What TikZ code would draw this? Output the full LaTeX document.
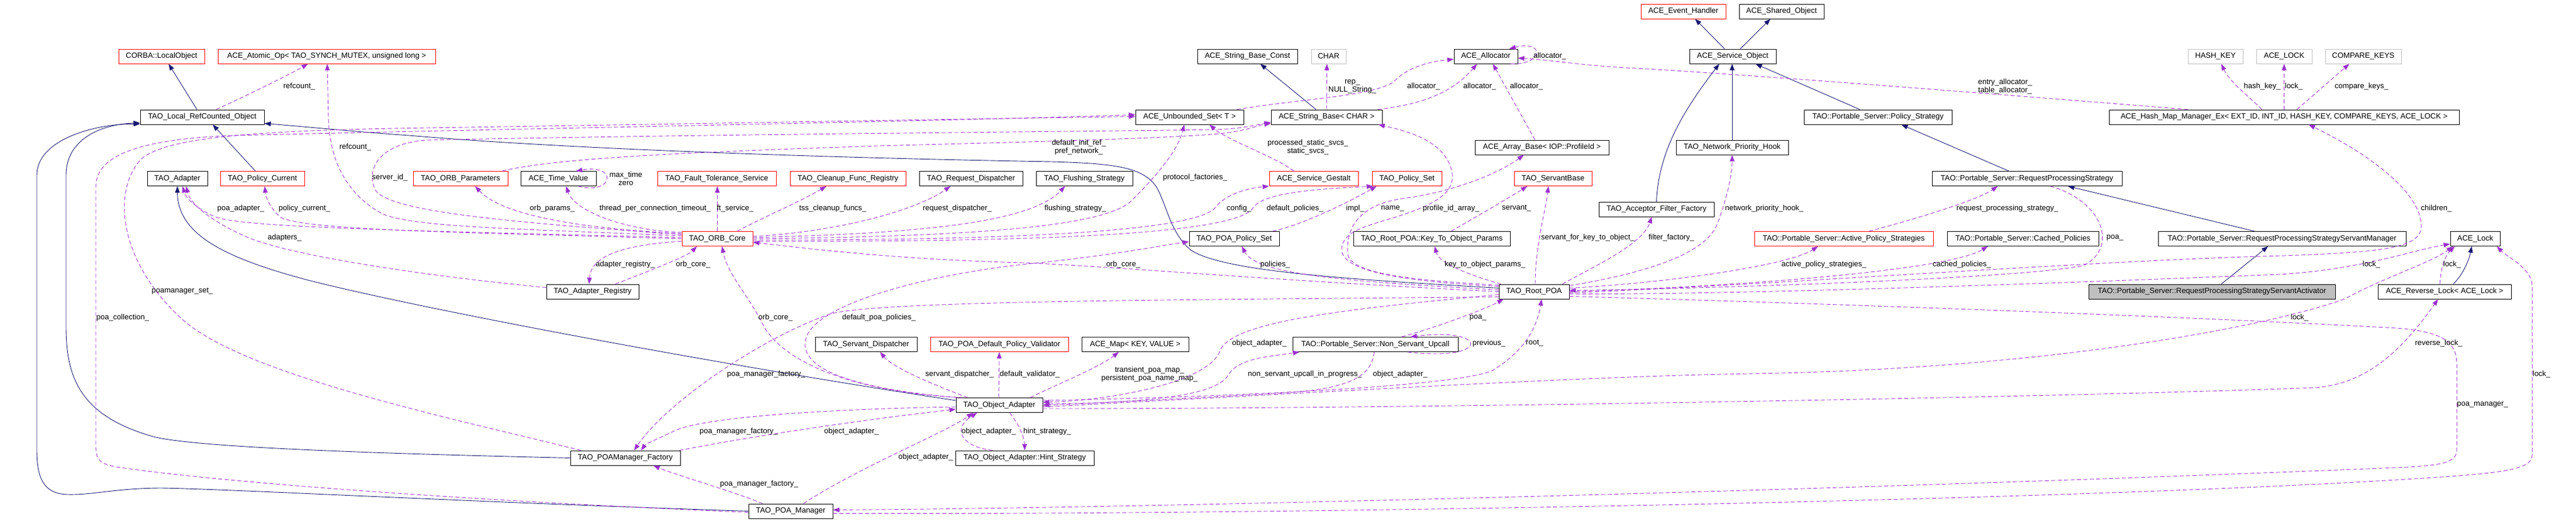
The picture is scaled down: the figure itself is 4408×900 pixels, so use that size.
\documentclass[tikz,border=0pt]{standalone}
\usepackage{fontspec}
\setmainfont{Liberation Sans}
\usetikzlibrary{arrows.meta}
\definecolor{inhblue}{RGB}{25,25,112}
\definecolor{usepurple}{RGB}{154,50,205}
\definecolor{boxgray}{RGB}{191,191,191}

\begin{document}
\begin{tikzpicture}[x=1pt,y=-1pt,
	>={Triangle[length=11pt,width=8pt]},
	every node/.style={font=\fontsize{13}{14}\selectfont},
	cls/.style={draw=black,fill=white,line width=0.9pt,minimum height=25pt,inner sep=0pt},
	redcls/.style={cls,draw=red},
	graycls/.style={cls,draw=boxgray},
	focuscls/.style={cls,fill=boxgray},
	inh/.style={->,draw=inhblue,line width=0.9pt},
	usage/.style={->,draw=usepurple,line width=0.9pt,dash pattern=on 7pt off 4pt},
	lbl/.style={inner sep=0pt,align=center}]
				\useasboundingbox (0,0) rectangle (4408,900);
				\node[redcls,minimum width=145pt] (eventH) at (2880.5,19.5) {ACE\_Event\_Handler};
				\node[cls,minimum width=145pt] (sharedObj) at (3048.5,19.5) {ACE\_Shared\_Object};
				\node[redcls,minimum width=147pt] (localObj) at (276.5,96.5) {CORBA::LocalObject};
				\node[redcls,minimum width=372pt] (atomicOp) at (559,96.5) {ACE\_Atomic\_Op< TAO\_SYNCH\_MUTEX, unsigned long >};
				\node[cls,minimum width=171pt] (strConst) at (2134.5,96.5) {ACE\_String\_Base\_Const};
				\node[graycls,minimum width=59pt] (charT) at (2273.5,96.5) {CHAR};
				\node[cls,minimum width=109pt] (allocator) at (2542.5,96.5) {ACE\_Allocator};
				\node[cls,minimum width=148pt] (serviceObj) at (2965,96.5) {ACE\_Service\_Object};
				\node[graycls,minimum width=94pt] (hashKey) at (3791,96.5) {HASH\_KEY};
				\node[graycls,minimum width=95pt] (lockT) at (3908.5,96.5) {ACE\_LOCK};
				\node[graycls,minimum width=130pt] (compareKeys) at (4044,96.5) {COMPARE\_KEYS};
				\node[cls,minimum width=212pt] (refCounted) at (346,200.5) {TAO\_Local\_RefCounted\_Object};
				\node[cls,minimum width=185pt] (unboundedSet) at (2035.5,200.5) {ACE\_Unbounded\_Set< T >};
				\node[cls,minimum width=190pt] (stringBase) at (2270,200.5) {ACE\_String\_Base< CHAR >};
				\node[cls,minimum width=253pt] (policyStrategy) at (3213.5,200.5) {TAO::Portable\_Server::Policy\_Strategy};
				\node[cls,minimum width=599pt] (hashMap) at (3908.5,200.5) {ACE\_Hash\_Map\_Manager\_Ex< EXT\_ID, INT\_ID, HASH\_KEY, COMPARE\_KEYS, ACE\_LOCK >};
				\node[cls,minimum width=229pt] (arrayBase) at (2638.5,252.5) {ACE\_Array\_Base< IOP::ProfileId >};
				\node[cls,minimum width=192pt] (netPrioHook) at (2964,252.5) {TAO\_Network\_Priority\_Hook};
				\node[cls,minimum width=103pt] (adapter) at (303.5,306) {TAO\_Adapter};
				\node[redcls,minimum width=144pt] (policyCurrent) at (449,306) {TAO\_Policy\_Current};
				\node[redcls,minimum width=162pt] (orbParams) at (788,306) {TAO\_ORB\_Parameters};
				\node[cls,minimum width=129pt] (timeValue) at (955.5,306) {ACE\_Time\_Value};
				\node[redcls,minimum width=203pt] (ftService) at (1226.5,306) {TAO\_Fault\_Tolerance\_Service};
				\node[redcls,minimum width=198pt] (cleanupReg) at (1451,306) {TAO\_Cleanup\_Func\_Registry};
				\node[cls,minimum width=177pt] (reqDispatcher) at (1661.5,306) {TAO\_Request\_Dispatcher};
				\node[cls,minimum width=165pt] (flushStrategy) at (1855.5,306) {TAO\_Flushing\_Strategy};
				\node[redcls,minimum width=152pt] (serviceGestalt) at (2248,306) {ACE\_Service\_Gestalt};
				\node[redcls,minimum width=119pt] (policySet) at (2407.5,306) {TAO\_Policy\_Set};
				\node[redcls,minimum width=133pt] (servantBase) at (2657.5,306) {TAO\_ServantBase};
				\node[cls,minimum width=325pt] (rps) at (3468.5,306) {TAO::Portable\_Server::RequestProcessingStrategy};
				\node[cls,minimum width=197pt] (filterFactory) at (2834.5,358.5) {TAO\_Acceptor\_Filter\_Factory};
				\node[redcls,minimum width=121pt] (orbCore) at (1227.5,409) {TAO\_ORB\_Core};
				\node[cls,minimum width=154pt] (poaPolicySet) at (2112,409) {TAO\_POA\_Policy\_Set};
				\node[cls,minimum width=268pt] (keyParams) at (2450,409) {TAO\_Root\_POA::Key\_To\_Object\_Params};
				\node[redcls,minimum width=306pt] (activeStrategies) at (3155,409) {TAO::Portable\_Server::Active\_Policy\_Strategies};
				\node[cls,minimum width=259pt] (cachedPolicies) at (3461.5,409) {TAO::Portable\_Server::Cached\_Policies};
				\node[cls,minimum width=424pt] (rpsManager) at (3905,409) {TAO::Portable\_Server::RequestProcessingStrategyServantManager};
				\node[cls,minimum width=85pt] (aceLock) at (4235.5,409) {ACE\_Lock};
				\node[cls,minimum width=158pt] (adapterRegistry) at (1014,499.5) {TAO\_Adapter\_Registry};
				\node[cls,minimum width=120pt] (rootPOA) at (2625,499.5) {TAO\_Root\_POA};
				\node[focuscls,minimum width=422pt] (rpsActivator) at (3785,499.5) {TAO::Portable\_Server::RequestProcessingStrategyServantActivator};
				\node[cls,minimum width=228pt] (reverseLock) at (4183,499.5) {ACE\_Reverse\_Lock< ACE\_Lock >};
				\node[cls,minimum width=174pt] (servantDispatcher) at (1482,590) {TAO\_Servant\_Dispatcher};
				\node[redcls,minimum width=236pt] (defaultValidator) at (1710,590) {TAO\_POA\_Default\_Policy\_Validator};
				\node[cls,minimum width=183pt] (aceMap) at (1942.5,590) {ACE\_Map< KEY, VALUE >};
				\node[cls,minimum width=283pt] (nonServantUpcall) at (2353.5,590) {TAO::Portable\_Server::Non\_Servant\_Upcall};
				\node[cls,minimum width=148pt] (objectAdapter) at (1710,694) {TAO\_Object\_Adapter};
				\node[cls,minimum width=188pt] (poaManagerFactory) at (1070,784.5) {TAO\_POAManager\_Factory};
				\node[cls,minimum width=237pt] (hintStrategy) at (1753.5,784.5) {TAO\_Object\_Adapter::Hint\_Strategy};
				\node[cls,minimum width=144pt] (poaManager) at (1353,875.5) {TAO\_POA\_Manager};

				\draw[inh] ([xshift=-9pt]refCounted.north) -- ([xshift=12pt]localObj.south);
				\draw[inh] ([xshift=-12pt]policyCurrent.north) -- ([xshift=18pt]refCounted.south);
				\draw[inh] ([yshift=8pt]objectAdapter.west) .. controls (1200,620) and (700,525) .. (520,478) .. controls (380,440) and (304,400) .. (adapter.south);
				\draw[inh] (poaManagerFactory.west) .. controls (700,778) and (330,768) .. (259,747) .. controls (140,712) and (113,650) .. (113,560) -- (113,300) .. controls (113,240) and (170,213) .. ([yshift=3pt]refCounted.south west);
				\draw[inh] (poaManager.west) .. controls (800,860) and (400,838) .. (277,836) .. controls (200,836) and (160,848) .. (116,847) .. controls (75,846) and (63,820) .. (63,770) -- (63,300) .. controls (63,240) and (160,212) .. ([yshift=1pt]refCounted.south west);
				\draw[inh] ([yshift=6pt]rootPOA.west) .. controls (2300,478) and (2100,465) .. (2040,430) .. controls (2000,400) and (1995,340) .. (1975,315) .. controls (1950,285) and (1900,280) .. (1800,277) .. controls (1500,272) and (1000,258) .. (700,232) .. controls (600,225) and (500,215) .. ([yshift=2pt]refCounted.south east);
				\draw[inh] ([xshift=-18pt]stringBase.north) -- ([xshift=22pt]strConst.south);
				\draw[inh] ([xshift=-14pt]serviceObj.north) -- ([xshift=20pt]eventH.south);
				\draw[inh] ([xshift=13pt]serviceObj.north) -- ([xshift=-19pt]sharedObj.south);
				\draw[inh] (filterFactory.north) .. controls (2838,260) and (2880,190) .. ([xshift=-23pt]serviceObj.south);
				\draw[inh] (netPrioHook.north) -- ([xshift=-1pt]serviceObj.south);
				\draw[inh] ([xshift=-31pt]policyStrategy.north) -- ([xshift=39pt]serviceObj.south);
				\draw[inh] ([xshift=-31pt]rps.north) -- ([xshift=40pt]policyStrategy.south);
				\draw[inh] ([xshift=-47pt]rpsManager.north) -- ([xshift=70pt]rps.south);
				\draw[inh] ([xshift=16pt]rpsActivator.north) -- ([xshift=-24pt]rpsManager.south);
				\draw[inh] ([xshift=15pt]reverseLock.north) .. controls (4215,470) and (4225,445) .. ([xshift=-6pt]aceLock.south);

				\draw[usage] ([xshift=24pt]refCounted.north) .. controls (430,160) and (500,125) .. ([xshift=-32pt]atomicOp.south);
				\draw[usage] ([yshift=5pt]orbCore.west) .. controls (900,392) and (700,390) .. (652,365) .. controls (590,330) and (563,270) .. (562,200) -- ([xshift=1pt]atomicOp.south);
				\draw[usage] ([yshift=2pt]orbCore.west) .. controls (700,395) and (420,390) .. (370,372) .. controls (340,360) and (318,340) .. ([xshift=9pt]adapter.south);
				\draw[usage] (orbCore.west) .. controls (800,398) and (520,395) .. (480,372) .. controls (465,360) and (455,340) .. ([xshift=4pt]policyCurrent.south);
				\draw[usage] ([yshift=7pt]adapterRegistry.west) .. controls (750,475) and (500,440) .. (420,405) .. controls (360,378) and (326,350) .. ([xshift=15pt]adapter.south);
				\draw[usage] ([yshift=7pt]orbCore.west) .. controls (900,382) and (665,365) .. (642,325) .. controls (625,290) and (650,245) .. (730,240) .. controls (1200,230) and (1800,226) .. (2080,222) .. controls (2120,221) and (2150,214) .. ([yshift=-9pt]stringBase.west);
				\draw[usage] ([xshift=-10pt]orbParams.north east) .. controls (950,270) and (1200,260) .. (1500,250) .. controls (1800,242) and (2050,236) .. (2110,226) .. controls (2140,221) and (2155,214) .. ([yshift=-11pt]stringBase.west);
				\draw[usage] ([yshift=9pt]orbCore.west) .. controls (1000,392) and (860,370) .. ([xshift=25pt]orbParams.south);
				\draw[usage] ([yshift=11pt]orbCore.west) .. controls (1080,396) and (985,365) .. ([xshift=13pt]timeValue.south);
				\draw[usage] ([xshift=34pt]timeValue.south) .. controls (1050,335) and (1058,280) .. ([xshift=30pt]timeValue.north);
				\draw[usage] (orbCore.north) -- ([xshift=1pt]ftService.south);
				\draw[usage] ([xshift=34pt]orbCore.north) .. controls (1300,375) and (1370,345) .. ([xshift=-37pt]cleanupReg.south);
				\draw[usage] ([yshift=4pt]orbCore.east) .. controls (1420,398) and (1560,365) .. ([xshift=-35pt]reqDispatcher.south);
				\draw[usage] ([yshift=2pt]orbCore.east) .. controls (1550,400) and (1760,385) .. ([xshift=-33pt]flushStrategy.south);
				\draw[usage] (orbCore.east) .. controls (1700,405) and (1890,385) .. (1935,345) .. controls (1975,305) and (2015,260) .. ([xshift=-9pt]unboundedSet.south);
				\draw[usage] ([yshift=-2pt]orbCore.east) .. controls (1750,412) and (2050,395) .. (2080,355) .. controls (2100,330) and (2140,322) .. (serviceGestalt.south west);
				\draw[usage] ([yshift=-4pt]orbCore.east) .. controls (1800,415) and (2120,400) .. (2145,355) .. controls (2165,325) and (2300,322) .. ([xshift=-58pt]policySet.south);
				\draw[usage] ([xshift=-12pt]poaPolicySet.north east) .. controls (2230,385) and (2310,345) .. ([xshift=-52pt]policySet.south);
				\draw[usage] ([xshift=-34pt]serviceGestalt.north) .. controls (2185,270) and (2100,240) .. ([xshift=34pt]unboundedSet.south);
				\draw[usage] (stringBase.north) -- ([xshift=-3pt]charT.south);
				\draw[usage] ([xshift=-12pt]unboundedSet.north east) .. controls (2220,170) and (2350,165) .. (2385,140) .. controls (2405,118) and (2440,106) .. ([yshift=-5pt]allocator.west);
				\draw[usage] ([xshift=-8pt]stringBase.north east) .. controls (2420,180) and (2480,165) .. ([xshift=-15pt]allocator.south);
				\draw[usage] ([xshift=-12pt]arrayBase.north) -- ([xshift=12pt]allocator.south);
				\draw[usage] ([xshift=-12pt]allocator.south east) .. controls (2640,112) and (2645,68) .. ([xshift=40pt]allocator.north);
				\draw[usage] ([xshift=-165pt]hashMap.north) .. controls (3500,168) and (3000,128) .. (2800,117) .. controls (2700,112) and (2650,102) .. ([yshift=-3pt]allocator.east);
				\draw[usage] ([xshift=-38pt]hashMap.north) .. controls (3848,165) and (3815,140) .. ([xshift=10pt]hashKey.south);
				\draw[usage] (hashMap.north) -- (lockT.south);
				\draw[usage] ([xshift=22pt]hashMap.north) -- ([xshift=-24pt]compareKeys.south);
				\draw[usage] ([yshift=-2pt]rootPOA.east) .. controls (3000,490) and (3600,445) .. (3909,438) .. controls (4060,432) and (4140,428) .. (4143,390) .. controls (4146,330) and (4050,262) .. ([xshift=42pt]hashMap.south);
				\draw[usage] ([xshift=40pt]rps.south) .. controls (3600,345) and (3625,425) .. (3565,455) .. controls (3450,478) and (2900,495) .. ([yshift=2pt]rootPOA.east);
				\draw[usage] ([yshift=6pt]rootPOA.east) .. controls (2850,485) and (3060,455) .. ([xshift=-44pt]activeStrategies.south);
				\draw[usage] (rootPOA.east) .. controls (2950,492) and (3330,465) .. ([xshift=-60pt]cachedPolicies.south);
				\draw[usage] ([xshift=43pt]activeStrategies.north) .. controls (3260,380) and (3380,345) .. ([xshift=-50pt]rps.south);
				\draw[usage] ([yshift=10pt]rootPOA.east) .. controls (2800,470) and (2915,440) .. (2938,385) .. controls (2955,340) and (2964,300) .. (netPrioHook.south);
				\draw[usage] ([xshift=-12pt]rootPOA.north east) .. controls (2720,460) and (2810,420) .. ([xshift=-8pt]filterFactory.south);
				\draw[usage] ([xshift=2pt]rootPOA.north) .. controls (2627,420) and (2645,360) .. ([xshift=-8pt]servantBase.south);
				\draw[usage] ([xshift=4pt]rootPOA.north west) .. controls (2510,470) and (2462,450) .. ([xshift=5pt]keyParams.south);
				\draw[usage] ([xshift=33pt]keyParams.north) .. controls (2520,375) and (2580,340) .. ([xshift=-44pt]servantBase.south);
				\draw[usage] ([yshift=9pt]rootPOA.west) .. controls (2400,482) and (2292,465) .. (2296,425) .. controls (2299,392) and (2350,385) .. (2400,368) .. controls (2470,345) and (2495,322) .. (2482,285) .. controls (2465,240) and (2410,225) .. ([xshift=-7pt]stringBase.south east);
				\draw[usage] ([yshift=11pt]rootPOA.west) .. controls (2420,480) and (2305,470) .. (2306,432) .. controls (2304,395) and (2320,352) .. (2400,340) .. controls (2480,330) and (2560,300) .. ([xshift=-31pt]arrayBase.south);
				\draw[usage] ([yshift=3pt]rootPOA.west) .. controls (2300,482) and (2150,470) .. ([xshift=13pt]poaPolicySet.south);
				\draw[usage] (rootPOA.west) .. controls (2200,482) and (1900,456) .. (1750,450) .. controls (1550,445) and (1400,428) .. ([yshift=-6pt]orbCore.east);
				\draw[usage] ([xshift=4pt]objectAdapter.north west) .. controls (1450,665) and (1372,630) .. (1378,585) .. controls (1385,520) and (1600,468) .. (1760,452) .. controls (1900,438) and (1990,420) .. ([yshift=-5pt]poaPolicySet.west);
				\draw[usage] ([xshift=12pt]objectAdapter.north west) .. controls (1450,672) and (1335,615) .. (1305,555) .. controls (1280,505) and (1245,470) .. ([xshift=8pt]orbCore.south);
				\draw[usage] ([yshift=-4pt]orbCore.west) .. controls (1100,418) and (1012,428) .. ([xshift=-6pt]adapterRegistry.north);
				\draw[usage] ([xshift=39pt]adapterRegistry.north) .. controls (1100,468) and (1175,440) .. ([xshift=-35pt]orbCore.south);
				\draw[usage] ([yshift=-9pt]rootPOA.west) .. controls (2000,514) and (1500,515) .. (1420,538) .. controls (1300,580) and (1140,690) .. ([xshift=15pt]poaManagerFactory.north);
				\draw[usage] ([yshift=-3pt]objectAdapter.west) .. controls (1450,700) and (1200,712) .. (1150,740) .. controls (1125,752) and (1105,760) .. ([xshift=27pt]poaManagerFactory.north);
				\draw[usage] ([xshift=-2pt]poaManagerFactory.north east) .. controls (1260,752) and (1450,722) .. ([yshift=-7pt]objectAdapter.west);
				\draw[usage] ([xshift=-48pt]poaManager.north) .. controls (1250,840) and (1160,815) .. ([xshift=48pt]poaManagerFactory.south);
				\draw[usage] ([xshift=22pt]poaManager.north) .. controls (1470,800) and (1620,740) .. ([xshift=-45pt]objectAdapter.south);
				\draw[usage] ([xshift=-76pt]poaManagerFactory.north) .. controls (800,722) and (420,645) .. (312,547) .. controls (205,450) and (190,330) .. (241,273) .. controls (290,228) and (500,222) .. (800,218) .. controls (1300,210) and (1700,203) .. ([yshift=1pt]unboundedSet.west);
				\draw[usage] ([yshift=-2pt]poaManager.west) .. controls (900,862) and (420,832) .. (200,800) .. controls (172,795) and (164,788) .. (164,765) -- (164,320) .. controls (164,262) and (250,238) .. (400,232) .. controls (1000,218) and (1600,208) .. ([yshift=4pt]unboundedSet.west);
				\draw[usage] ([xshift=53pt]objectAdapter.north) .. controls (1800,662) and (1880,630) .. ([xshift=-28pt]aceMap.south);
				\draw[usage] ([xshift=-54pt]objectAdapter.north) .. controls (1600,660) and (1528,630) .. ([xshift=24pt]servantDispatcher.south);
				\draw[usage] ([xshift=-1pt]objectAdapter.north) -- (defaultValidator.south);
				\draw[usage] ([xshift=18pt]objectAdapter.south) .. controls (1745,730) and (1753,750) .. (hintStrategy.north);
				\draw[usage] ([xshift=-55pt]hintStrategy.north) .. controls (1645,765) and (1628,735) .. ([xshift=-38pt]objectAdapter.south);
				\draw[usage] ([yshift=-5pt]rootPOA.west) .. controls (2300,530) and (2110,550) .. (2088,600) .. controls (2070,655) and (1900,686) .. ([yshift=5pt]objectAdapter.east);
				\draw[usage] ([yshift=8pt]objectAdapter.east) .. controls (2100,680) and (2500,662) .. (2555,634) .. controls (2610,600) and (2630,560) .. ([xshift=13pt]rootPOA.south);
				\draw[usage] ([yshift=2pt]objectAdapter.east) .. controls (2000,690) and (2085,672) .. (2102,642) .. controls (2120,612) and (2180,610) .. ([xshift=-130pt]nonServantUpcall.south);
				\draw[usage] ([xshift=-2pt]nonServantUpcall.south) .. controls (2347,640) and (2320,665) .. (2200,673) .. controls (2000,684) and (1850,692) .. (objectAdapter.east);
				\draw[usage] ([xshift=45pt]nonServantUpcall.north) .. controls (2460,560) and (2540,530) .. ([xshift=-52pt]rootPOA.south);
				\draw[usage] ([xshift=55pt]nonServantUpcall.south) .. controls (2550,620) and (2550,560) .. ([xshift=60pt]nonServantUpcall.north);
				\draw[usage] ([yshift=-6pt]objectAdapter.east) .. controls (2500,700) and (3600,678) .. (3961,664) .. controls (4050,658) and (4110,600) .. ([xshift=-11pt]reverseLock.south);
				\draw[usage] ([yshift=-3pt]objectAdapter.east) .. controls (2300,670) and (2700,645) .. (3000,640) .. controls (3500,632) and (3880,560) .. (4012,512) .. controls (4080,475) and (4160,450) .. ([xshift=-38pt]aceLock.south);
				\draw[usage] ([yshift=-4pt]rootPOA.east) .. controls (3000,505) and (3600,482) .. (3900,470) .. controls (4040,462) and (4130,428) .. ([yshift=-9pt]aceLock.west);
				\draw[usage] ([xshift=-8pt]reverseLock.north) .. controls (4176,465) and (4182,440) .. ([xshift=-35pt]aceLock.south);
				\draw[usage] ([yshift=-8pt]rootPOA.east) .. controls (3200,522) and (3800,545) .. (4100,562) .. controls (4180,568) and (4204,585) .. (4204,625) -- (4204,770) .. controls (4204,792) and (4180,798) .. (4100,801) .. controls (3200,838) and (2000,870) .. ([yshift=2pt]poaManager.east);
				\draw[usage] ([yshift=-4pt]poaManager.east) .. controls (2200,882) and (3500,858) .. (4100,822) .. controls (4260,812) and (4333,808) .. (4333,780) -- (4333,490) .. controls (4333,460) and (4290,440) .. ([xshift=37pt]aceLock.south);

				\node[lbl] (lRefcountA) at (512,148) {refcount\_};
				\node[lbl] (lRefcountB) at (608,252) {refcount\_};
				\node[lbl] (lServerId) at (667,304) {server\_id\_};
				\node[lbl] (lPoaAdapter) at (412,357) {poa\_adapter\_};
				\node[lbl] (lPolicyCurrent) at (521,357) {policy\_current\_};
				\node[lbl] (lAdapters) at (487,407) {adapters\_};
				\node[lbl] (lPoamanagerSet) at (312,499) {poamanager\_set\_};
				\node[lbl] (lPoaCollection) at (210,544) {poa\_collection\_};
				\node[lbl] (lOrbParams) at (945,357) {orb\_params\_};
				\node[lbl] (lThreadTimeout) at (1121,357) {thread\_per\_connection\_timeout\_};
				\node[lbl] (lFtService) at (1258,357) {ft\_service\_};
				\node[lbl] (lMaxTime) at (1071,306) {max\_time\\zero};
				\node[lbl] (lAdapterRegistry) at (1070,453) {adapter\_registry\_};
				\node[lbl] (lOrbCoreA) at (1186,453) {orb\_core\_};
				\node[lbl] (lOrbCoreB) at (1327,544) {orb\_core\_};
				\node[lbl] (lFactoryA) at (1311,641) {poa\_manager\_factory\_};
				\node[lbl] (lFactoryB) at (1264,739) {poa\_manager\_factory\_};
				\node[lbl] (lFactoryC) at (1299,829) {poa\_manager\_factory\_};
				\node[lbl] (lInitRef) at (1846,252) {default\_init\_ref\_\\pref\_network\_};
				\node[lbl] (lCleanup) at (1425,357) {tss\_cleanup\_funcs\_};
				\node[lbl] (lReqDispatcher) at (1638,357) {request\_dispatcher\_};
				\node[lbl] (lFlushing) at (1840,357) {flushing\_strategy\_};
				\node[lbl] (lProtocol) at (2045,304) {protocol\_factories\_};
				\node[lbl] (lOrbCoreC) at (1922,453) {orb\_core\_};
				\node[lbl] (lDefPoaPolicies) at (1504,544) {default\_poa\_policies\_};
				\node[lbl] (lServantDisp) at (1642,641) {servant\_dispatcher\_};
				\node[lbl] (lValidator) at (1762,641) {default\_validator\_};
				\node[lbl] (lPoaMaps) at (1967,641) {transient\_poa\_map\_\\persistent\_poa\_name\_map\_};
				\node[lbl] (lObjAdapterA) at (1457,739) {object\_adapter\_};
				\node[lbl] (lObjAdapterB) at (1692,739) {object\_adapter\_};
				\node[lbl] (lHintStrategy) at (1792,739) {hint\_strategy\_};
				\node[lbl] (lObjAdapterC) at (1584,783) {object\_adapter\_};
				\node[lbl] (lRep) at (2314,148) {rep\_\\NULL\_String\_};
				\node[lbl] (lAllocA) at (2436,148) {allocator\_};
				\node[lbl] (lAllocB) at (2532,148) {allocator\_};
				\node[lbl] (lAllocC) at (2612,148) {allocator\_};
				\node[lbl] (lAllocD) at (2652,96) {allocator\_};
				\node[lbl] (lStaticSvcs) at (2238,252) {processed\_static\_svcs\_\\static\_svcs\_};
				\node[lbl] (lConfig) at (2120,357) {config\_};
				\node[lbl] (lDefPolicies) at (2216,357) {default\_policies\_};
				\node[lbl] (lImpl) at (2319,357) {impl\_};
				\node[lbl] (lName) at (2383,357) {name\_};
				\node[lbl] (lProfileIds) at (2483,357) {profile\_id\_array\_};
				\node[lbl] (lServant) at (2595,357) {servant\_};
				\node[lbl] (lServantForKey) at (2717,407) {servant\_for\_key\_to\_object\_};
				\node[lbl] (lFilterFactory) at (2860,407) {filter\_factory\_};
				\node[lbl] (lPolicies) at (2182,453) {policies\_};
				\node[lbl] (lKeyParams) at (2541,453) {key\_to\_object\_params\_};
				\node[lbl] (lPoaA) at (2529,544) {poa\_};
				\node[lbl] (lObjAdapterD) at (2155,588) {object\_adapter\_};
				\node[lbl] (lPrevious) at (2548,588) {previous\_};
				\node[lbl] (lRoot) at (2626,588) {root\_};
				\node[lbl] (lInProgress) at (2233,641) {non\_servant\_upcall\_in\_progress\_};
				\node[lbl] (lObjAdapterE) at (2396,641) {object\_adapter\_};
				\node[lbl] (lEntryAlloc) at (3431,148) {entry\_allocator\_\\table\_allocator\_};
				\node[lbl] (lNetPrio) at (3019,357) {network\_priority\_hook\_};
				\node[lbl] (lReqStrategy) at (3435,357) {request\_processing\_strategy\_};
				\node[lbl] (lActive) at (3121,453) {active\_policy\_strategies\_};
				\node[lbl] (lCached) at (3357,453) {cached\_policies\_};
				\node[lbl] (lPoaB) at (3619,407) {poa\_};
				\node[lbl] (lHashKey) at (3871,148) {hash\_key\_};
				\node[lbl] (lLockA) at (3925,148) {lock\_};
				\node[lbl] (lCompare) at (4041,148) {compare\_keys\_};
				\node[lbl] (lChildren) at (4169,357) {children\_};
				\node[lbl] (lLockB) at (4058,453) {lock\_};
				\node[lbl] (lLockC) at (4196,453) {lock\_};
				\node[lbl] (lLockD) at (3935,544) {lock\_};
				\node[lbl] (lReverseLock) at (4173,588) {reverse\_lock\_};
				\node[lbl] (lPoaManager) at (4248,693) {poa\_manager\_};
				\node[lbl] (lLockE) at (4349,641) {lock\_};
			\end{tikzpicture}
\end{document}
